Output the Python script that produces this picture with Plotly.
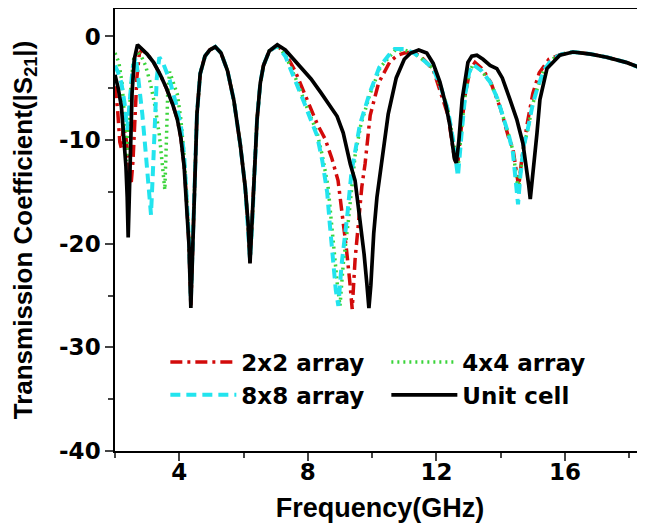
import plotly.graph_objects as go

# ---- Unit cell (black) ----
unit_f = [2.0, 2.1, 2.2, 2.28, 2.34, 2.38, 2.41, 2.44, 2.48, 2.53, 2.6, 2.7, 2.8, 3.0, 3.2, 3.41, 3.6, 3.8, 3.94, 4.05, 4.15, 4.22,
          4.3, 4.36, 4.42, 4.48, 4.55, 4.65, 4.8, 4.95, 5.12, 5.3, 5.5, 5.7, 5.9, 6.05, 6.14, 6.2, 6.26, 6.33, 6.42, 6.52,
          6.62, 6.8, 7.05, 7.3, 7.6, 7.9, 8.1, 8.4, 8.7, 8.91, 9.1, 9.32, 9.47, 9.63, 9.75, 9.84, 9.9, 9.96, 10.05, 10.15,
          10.31, 10.5, 10.75, 11.0, 11.2, 11.45, 11.7, 11.9, 12.11, 12.3, 12.42, 12.5, 12.56, 12.62, 12.7, 12.8, 12.9, 12.98,
          13.1, 13.26, 13.45, 13.67, 13.88, 14.05, 14.29, 14.5, 14.69, 14.8, 14.87, 14.92, 14.98, 15.05, 15.13, 15.22, 15.44,
          15.84, 16.25, 16.8, 17.3, 17.9, 18.5]
unit_db = [-3.7, -5.0, -6.8, -9.5, -12.5, -15.5, -19.4, -16.0, -10.5, -5.5, -2.2, -0.8, -1.1, -1.7, -2.5, -3.7, -5.0, -6.6, -8.0, -9.8, -12.5, -15.5,
           -20.0, -26.2, -20.0, -13.5, -7.5, -3.6, -1.9, -1.3, -1.0, -1.6, -3.3, -6.2, -10.5, -14.5, -18.0, -21.9, -18.5, -13.5, -8.0, -4.5,
           -2.8, -1.4, -0.8, -1.3, -2.4, -3.4, -4.1, -5.4, -6.8, -7.7, -9.3, -12.3, -13.9, -17.8, -21.0, -24.0, -26.2, -24.0, -19.0, -15.5,
           -11.8, -7.5, -4.0, -2.2, -1.6, -1.3, -1.6, -2.6, -4.4, -6.7, -8.6, -10.3, -11.8, -12.2, -10.0, -6.1, -3.8, -2.5,
           -1.9, -1.8, -2.2, -2.8, -3.1, -4.0, -6.1, -8.0, -10.3, -12.5, -14.3, -15.7, -14.0, -11.5, -9.3, -6.1, -3.1,
           -1.8, -1.5, -1.7, -2.0, -2.5, -3.2]

# ---- 2x2 array (red) ----
a2_f = [2.0, 2.08, 2.15, 2.2, 2.26, 2.33, 2.42, 2.5, 2.56, 2.62, 2.68, 2.76, 2.85, 3.0, 3.2, 3.41, 3.6, 3.8, 3.94, 4.05, 4.15, 4.22,
        4.3, 4.36, 4.42, 4.48, 4.55, 4.65, 4.8, 4.95, 5.12, 5.3, 5.5, 5.7, 5.9, 6.05, 6.14, 6.2, 6.26, 6.33, 6.42, 6.52,
        6.62, 6.8, 7.05, 7.3, 7.6, 7.85, 8.1, 8.3, 8.54, 8.75, 8.94, 9.05, 9.2, 9.3, 9.38, 9.47, 9.57, 9.68, 9.78, 9.94,
        10.2, 10.56, 10.8, 11.0, 11.3, 11.6, 11.9, 12.15, 12.36, 12.55, 12.65, 12.75, 12.9, 13.05, 13.2, 13.45, 13.7, 14.0,
        14.25, 14.38, 14.5, 14.56, 14.65, 14.82, 15.0, 15.2, 15.5, 15.9, 16.25, 16.8, 17.3, 17.9, 18.5]
a2_db = [-4.8, -7.0, -10.2, -10.8, -8.5, -9.5, -12.0, -14.3, -12.0, -8.0, -4.0, -1.6, -1.3, -1.7, -2.5, -3.7, -5.0, -6.6, -8.0, -9.8, -12.5, -15.5,
         -20.0, -26.0, -20.0, -13.5, -7.5, -3.6, -1.9, -1.3, -1.0, -1.6, -3.3, -6.2, -10.5, -14.5, -18.0, -21.8, -18.5, -13.5, -8.0, -4.5,
         -2.8, -1.4, -0.9, -1.6, -3.3, -5.2, -7.2, -8.5, -9.9, -11.8, -13.9, -16.5, -20.5, -23.5, -26.3, -21.5, -17.8, -14.5, -12.3, -7.6,
         -4.5, -2.4, -1.8, -1.6, -1.5, -2.2, -3.2, -5.5, -7.6, -11.5, -12.8, -9.5, -5.5, -3.2, -2.5, -3.2, -4.5, -7.0,
         -9.8, -10.8, -13.0, -14.5, -12.0, -8.5, -5.5, -3.5, -2.2, -1.7, -1.5, -1.7, -2.0, -2.5, -3.2]

# ---- 4x4 array (green) ----
a4_f = [2.0, 2.12, 2.22, 2.3, 2.36, 2.42, 2.5, 2.58, 2.68, 2.8, 2.95, 3.1, 3.25, 3.38, 3.48, 3.55, 3.6, 3.64, 3.7, 3.8, 3.94, 4.05,
        4.15, 4.22, 4.3, 4.36, 4.42, 4.48, 4.55, 4.65, 4.8, 4.95, 5.12, 5.3, 5.5, 5.7, 5.9, 6.05, 6.14, 6.2, 6.26, 6.33, 6.42,
        6.52, 6.62, 6.8, 7.05, 7.3, 7.5, 7.67, 7.9, 8.1, 8.29, 8.45, 8.63, 8.72, 8.82, 8.92, 9.0, 9.1, 9.26, 9.4, 9.47, 9.65,
        9.94, 10.25, 10.56, 10.72, 11.0, 11.3, 11.6, 11.9, 12.15, 12.36, 12.52, 12.67, 12.78, 12.9, 13.02, 13.14, 13.4, 13.67,
        13.9, 14.07, 14.25, 14.38, 14.48, 14.55, 14.62, 14.72, 14.82, 15.0, 15.13, 15.35, 15.6, 15.9, 16.25, 16.8, 17.3, 17.9, 18.5]
a4_db = [-1.6, -2.5, -4.5, -8.0, -12.0, -9.0, -4.5, -2.2, -1.4, -1.8, -2.8, -4.5, -6.8, -9.5, -12.5, -14.8, -10.0, -5.5, -3.4, -4.3, -5.6, -8.0,
         -11.5, -15.0, -19.5, -25.5, -20.0, -13.5, -7.5, -3.6, -1.9, -1.3, -1.0, -1.6, -3.3, -6.2, -10.5, -14.5, -18.0, -21.5, -18.5, -13.5, -8.0,
         -4.5, -2.8, -1.4, -0.9, -1.8, -3.2, -4.4, -6.3, -7.9, -9.3, -11.5, -14.5, -17.5, -21.0, -24.0, -26.0, -22.0, -17.8, -13.0, -11.5, -8.5,
         -5.5, -3.0, -1.8, -1.3, -1.3, -1.6, -2.3, -3.1, -5.0, -7.1, -10.0, -12.8, -9.0, -5.5, -3.5, -2.7, -3.3, -4.4,
         -6.0, -7.6, -9.5, -11.0, -13.5, -15.0, -13.0, -10.5, -9.3, -6.5, -5.1, -3.2, -2.2, -1.7, -1.5, -1.7, -2.0, -2.5, -3.2]

# ---- 8x8 array (cyan) ----
a8_f = [2.0, 2.1, 2.2, 2.3, 2.38, 2.46, 2.55, 2.65, 2.75, 2.85, 2.95, 3.05, 3.12, 3.18, 3.24, 3.3, 3.38, 3.5, 3.7, 3.9, 4.05,
        4.15, 4.22, 4.3, 4.36, 4.42, 4.48, 4.55, 4.65, 4.8, 4.95, 5.12, 5.3, 5.5, 5.7, 5.9, 6.05, 6.14, 6.2, 6.26, 6.33, 6.42,
        6.52, 6.62, 6.8, 7.05, 7.3, 7.5, 7.67, 7.9, 8.1, 8.29, 8.45, 8.6, 8.68, 8.78, 8.87, 8.95, 9.05, 9.22, 9.36, 9.45, 9.62,
        9.92, 10.22, 10.52, 10.7, 11.0, 11.3, 11.6, 11.9, 12.15, 12.36, 12.52, 12.67, 12.78, 12.9, 13.02, 13.14, 13.4, 13.67,
        13.9, 14.07, 14.25, 14.38, 14.47, 14.54, 14.61, 14.72, 14.82, 15.0, 15.13, 15.35, 15.6, 15.9, 16.25, 16.8, 17.3, 17.9, 18.5]
a8_db = [-2.8, -3.5, -4.5, -6.5, -9.0, -6.0, -3.0, -2.0, -4.4, -7.5, -11.0, -14.5, -17.2, -13.0, -8.0, -4.0, -2.0, -2.6, -4.2, -6.5, -8.6,
         -11.5, -15.0, -19.5, -25.5, -20.0, -13.5, -7.5, -3.6, -1.9, -1.3, -1.0, -1.6, -3.3, -6.2, -10.5, -14.5, -18.0, -21.5, -18.5, -13.5, -8.0,
         -4.5, -2.8, -1.4, -0.9, -1.9, -3.4, -4.6, -6.5, -8.1, -9.6, -12.0, -15.0, -18.0, -21.5, -24.5, -26.0, -22.0, -17.5, -13.0, -11.5, -8.5,
         -5.5, -3.0, -1.8, -1.2, -1.2, -1.6, -2.3, -3.1, -5.0, -7.1, -10.0, -13.5, -9.5, -5.5, -3.5, -2.7, -3.3, -4.4,
         -6.0, -7.6, -9.5, -11.2, -14.0, -16.2, -13.5, -10.5, -9.3, -6.5, -5.1, -3.2, -2.2, -1.7, -1.5, -1.7, -2.0, -2.5, -3.2]

x_tickvals = [4, 8, 12, 16]
x_ticktext = ["4", "8", "12", "16"]
y_tickvals = [0, -10, -20, -30, -40]
y_ticktext = ["0", "-10", "-20", "-30", "-40"]

FONT = "Liberation Sans"
WIDE = "DejaVu Sans"

fig = go.Figure()
fig.add_trace(go.Scatter(x=a2_f, y=a2_db, mode="lines", name="2x2 array", legendrank=1,
                         line=dict(color="#d20a0a", width=3.5, dash="12px,5px,3px,5px")))
fig.add_trace(go.Scatter(x=a4_f, y=a4_db, mode="lines", name="4x4 array", legendrank=2,
                         line=dict(color="#3bd43b", width=3.5, dash="2px,4px")))
fig.add_trace(go.Scatter(x=a8_f, y=a8_db, mode="lines", name="8x8 array", legendrank=3,
                         line=dict(color="#22e4ee", width=4, dash="10px,6px")))
fig.add_trace(go.Scatter(x=unit_f, y=unit_db, mode="lines", name="Unit cell", legendrank=4,
                         line=dict(color="black", width=3.7)))

# the page body adds an 8px offset, so the figure is 8px smaller and margins compensate
fig.update_layout(
    width=637, height=516,
    margin=dict(l=107, r=0, t=1, b=73),
    paper_bgcolor="white", plot_bgcolor="white",
    font=dict(family=FONT, color="black"),
    legend=dict(orientation="h", x=0.095, y=0.25, xanchor="left", yanchor="top",
                entrywidth=140, entrywidthmode="pixels", itemwidth=66,
                font=dict(family=WIDE, size=23, weight="bold"),
                bgcolor="rgba(0,0,0,0)", tracegroupgap=0),
)
fig.update_xaxes(range=[2.0, 18.49], tickvals=x_tickvals, ticktext=x_ticktext, ticks="outside", ticklen=8, tickwidth=1.5,
                 showline=True, linecolor="black", linewidth=1.5, mirror=True, showgrid=False, zeroline=False,
                 automargin=False, ticklabelstandoff=-8,
                 tickfont=dict(family=WIDE, size=23, weight="bold"),
                 minor=dict(ticks="outside", ticklen=5, tickwidth=1.5, dtick=2, tick0=0, showgrid=False),
                 title=dict(text="Frequency(GHz)", font=dict(family=FONT, size=27, weight="bold"), standoff=14))
fig.update_yaxes(range=[-40, 2.65], tickvals=y_tickvals, ticktext=y_ticktext, ticks="outside", ticklen=8, tickwidth=1.5,
                 showline=True, linecolor="black", linewidth=1.5, showgrid=False, zeroline=False,
                 automargin=False,
                 tickfont=dict(family=WIDE, size=23, weight="bold"),
                 minor=dict(ticks="outside", ticklen=5, tickwidth=1.5, dtick=5, tick0=0, showgrid=False),
                 title=dict(text="Transmission Coefficient(|S<sub>21</sub>|)",
                            font=dict(family=FONT, size=26, weight="bold"), standoff=22))

fig.write_html("out.html")
